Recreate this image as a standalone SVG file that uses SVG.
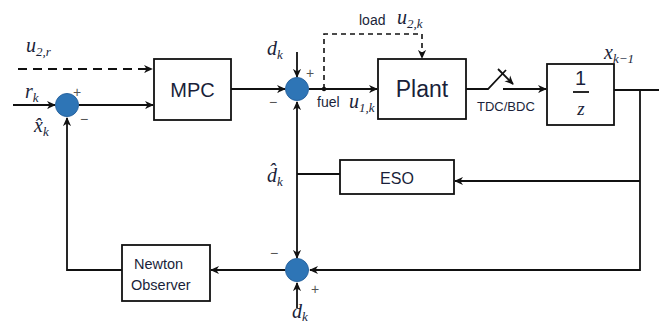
<svg xmlns="http://www.w3.org/2000/svg" width="659" height="325" viewBox="0 0 659 325">
<defs>
<marker id="ah" viewBox="0 0 10 10" refX="9" refY="5" markerWidth="9" markerHeight="9" markerUnits="userSpaceOnUse" orient="auto">
<path d="M0,0.5 L10,5 L0,9.5 L3,5 z" fill="#111"/>
</marker>
</defs>
<style>
.ln{fill:none;stroke:#111;stroke-width:1.8}
.dash{fill:none;stroke:#111;stroke-width:1.8;stroke-dasharray:9,6}
.dash2{fill:none;stroke:#111;stroke-width:1.6;stroke-dasharray:5,4}
.box{fill:#fff;stroke:#111;stroke-width:1.8}
.sum{fill:#2e75b6;stroke:#2a65a0;stroke-width:1}
.t{font-family:"Liberation Sans",Arial,sans-serif;fill:#1a1f3a}
.m{font-family:"Liberation Serif","Times New Roman",serif;font-style:italic;fill:#1a1f3a}
.s{font-family:"Liberation Sans",Arial,sans-serif;fill:#555;font-size:14px}
</style>
<rect width="659" height="325" fill="#fff"/>
<g id="connectors">
<path class="dash" d="M18,69 H152" marker-end="url(#ah)"/>
<path class="ln" d="M13,105 H55" marker-end="url(#ah)"/>
<path class="ln" d="M79,105 H153" marker-end="url(#ah)"/>
<path class="ln" d="M231,89 H285" marker-end="url(#ah)"/>
<path class="ln" d="M297,52 V77" marker-end="url(#ah)"/>
<path class="ln" d="M309,89 H377" marker-end="url(#ah)"/>
<path class="dash2" d="M324,89 V34 H422 V58" marker-end="url(#ah)"/>
<path class="ln" d="M466,89 H488 L506,70"/>
<path class="ln" d="M498,69 L513,84" marker-end="url(#ah)"/>
<path class="ln" d="M503,89 H546" marker-end="url(#ah)"/>
<path class="ln" d="M614,90 H659"/>
<path class="ln" d="M640,90 V270 H310" marker-end="url(#ah)"/>
<path class="ln" d="M640,181 H455" marker-end="url(#ah)"/>
<path class="ln" d="M340,174 H297"/>
<path class="ln" d="M297,174 V102" marker-end="url(#ah)"/>
<path class="ln" d="M297,174 V258" marker-end="url(#ah)"/>
<path class="ln" d="M297,308 V283" marker-end="url(#ah)"/>
<path class="ln" d="M285,270 H211" marker-end="url(#ah)"/>
<path class="ln" d="M122,270 H67 V118" marker-end="url(#ah)"/>
<circle cx="324" cy="89" r="2.2" fill="#111"/>
</g>
<g id="sum1">
<circle class="sum" cx="67" cy="105" r="11.5"/>
<text class="s" x="73" y="97">+</text>
<text class="s" x="80" y="124">−</text>
</g>
<g id="sum2">
<circle class="sum" cx="297" cy="89" r="11.5"/>
<text class="s" x="306" y="78">+</text>
<text class="s" x="269" y="107">−</text>
</g>
<g id="sum3">
<circle class="sum" cx="297" cy="270" r="11.5"/>
<text class="s" x="270" y="258">−</text>
<text class="s" x="311" y="294">+</text>
</g>
<g id="mpc">
<rect class="box" x="154" y="59" width="77" height="61"/>
<text class="t" x="192.5" y="97" font-size="20" text-anchor="middle">MPC</text>
</g>
<g id="plant">
<rect class="box" x="378" y="59" width="88" height="60"/>
<text class="t" x="422" y="97" font-size="23" text-anchor="middle">Plant</text>
</g>
<g id="delay">
<rect class="box" x="547" y="64" width="67" height="61"/>
<text class="t" x="580.5" y="85" font-size="20" text-anchor="middle">1</text>
<path d="M573,92 H589" stroke="#111" stroke-width="1.8"/>
<text class="m" x="581" y="115" font-size="19" text-anchor="middle">z</text>
</g>
<g id="eso">
<rect class="box" x="340" y="160" width="114" height="34"/>
<text class="t" x="397" y="184" font-size="16" text-anchor="middle">ESO</text>
</g>
<g id="newton">
<rect class="box" x="122" y="245" width="88" height="56"/>
<text class="t" x="134" y="269" font-size="14.5">Newton</text>
<text class="t" x="131" y="290" font-size="14.5">Observer</text>
</g>
<g id="labels">
<text class="m" x="26" y="52" font-size="20">u<tspan font-size="13" dy="4">2,r</tspan></text>
<text class="m" x="25" y="98" font-size="20">r<tspan font-size="13" dy="4">k</tspan></text>
<text class="m" x="34" y="132" font-size="20">x̂<tspan font-size="13" dy="4">k</tspan></text>
<text class="m" x="267" y="55" font-size="20">d<tspan font-size="13" dy="4">k</tspan></text>
<text class="t" x="359" y="25" font-size="14">load</text>
<text class="m" x="397" y="24" font-size="20">u<tspan font-size="13" dy="4">2,k</tspan></text>
<text class="t" x="317" y="107" font-size="14">fuel</text>
<text class="m" x="349" y="108" font-size="20">u<tspan font-size="13" dy="4">1,k</tspan></text>
<text class="t" x="477" y="111" font-size="13">TDC/BDC</text>
<text class="m" x="604" y="59" font-size="20">x<tspan font-size="13" dy="4">k−1</tspan></text>
<text class="m" x="267" y="182" font-size="20">d̂<tspan font-size="13" dy="4">k</tspan></text>
<text class="m" x="292" y="318" font-size="20">d<tspan font-size="13" dy="3">k</tspan></text>
</g>
</svg>
